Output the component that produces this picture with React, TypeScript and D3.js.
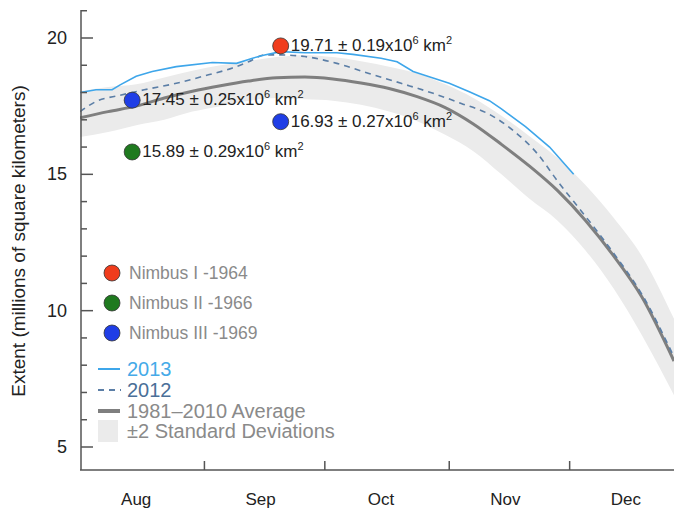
import React from "react";
import * as d3 from "d3";

// dates as "MM-DD" in 2013
const avgDates = ["08-01", "08-08", "08-15", "08-22", "08-29", "09-05", "09-12", "09-19", "09-26", "10-03", "10-10", "10-17", "10-24", "10-31", "11-07", "11-14", "11-21", "11-28", "12-05", "12-12", "12-19", "12-27"];
const avgValues = [17.07, 17.3, 17.5, 17.8, 18.05, 18.25, 18.42, 18.54, 18.57, 18.5, 18.35, 18.15, 17.85, 17.45, 16.85, 16.1, 15.3, 14.4, 13.3, 12.0, 10.5, 8.15];
const sdUpper = [18.05, 18.2, 18.3, 18.55, 18.8, 19.0, 19.15, 19.3, 19.38, 19.3, 19.15, 18.95, 18.7, 18.3, 17.8, 17.15, 16.4, 15.6, 14.6, 13.4, 12.0, 9.7];
const sdLower = [16.37, 16.55, 16.8, 17.0, 17.3, 17.5, 17.7, 17.8, 17.75, 17.7, 17.55, 17.3, 16.95, 16.45, 15.85, 15.0, 14.1, 13.3, 12.2, 10.8, 9.1, 6.9];

const dates2013 = ["08-01", "08-05", "08-09", "08-11", "08-15", "08-19", "08-25", "09-03", "09-09", "09-13", "09-16", "09-20", "09-26", "10-04", "10-08", "10-15", "10-19", "10-23", "10-27", "11-01", "11-06", "11-11", "11-14", "11-20", "11-26", "12-02"];
const values2013 = [18.0, 18.1, 18.1, 18.28, 18.6, 18.77, 18.95, 19.1, 19.07, 19.26, 19.38, 19.5, 19.46, 19.46, 19.4, 19.26, 19.13, 18.77, 18.58, 18.34, 18.03, 17.7, 17.4, 16.75, 16.0, 15.0];

const dates2012 = ["08-01", "08-05", "08-11", "08-17", "08-25", "09-02", "09-08", "09-12", "09-16", "09-20", "09-26", "10-04", "10-12", "10-20", "10-28", "11-04", "11-11", "11-17", "11-23", "11-28", "12-05", "12-12", "12-19", "12-27"];
const values2012 = [17.3, 17.67, 17.9, 18.1, 18.34, 18.65, 18.9, 19.13, 19.38, 19.38, 19.32, 19.07, 18.7, 18.34, 17.97, 17.6, 17.2, 16.6, 15.75, 14.75, 13.45, 12.1, 10.6, 8.3];

const nimbusNames = ["Nimbus I -1964", "Nimbus II -1966", "Nimbus III -1969"];
const nimbusColors = ["#f03c1c", "#1f7a1f", "#1f3ee6"];
const obsDates = ["09-20", "08-14", "08-14", "09-20"];
const obsValues = [19.71, 15.82, 17.72, 16.93];
const obsSat = [0, 1, 2, 2];
const obsLabels = [
  ["19.71 ± 0.19x10", "6", " km", "2"],
  ["15.89 ± 0.29x10", "6", " km", "2"],
  ["17.45 ± 0.25x10", "6", " km", "2"],
  ["16.93 ± 0.27x10", "6", " km", "2"],
];

const months = ["Aug", "Sep", "Oct", "Nov", "Dec"];
const yTicks = [5, 10, 15, 20];

const d = (s: string) => new Date(`2013-${s}T00:00:00`);
const FONT = "'Liberation Sans', Arial, Helvetica, sans-serif";

export default function App() {
  const x = d3.scaleTime().domain([d("08-01"), d("12-27")]).range([80, 674]);
  const y = d3.scaleLinear().domain([5, 20]).range([447, 38]);
  const axisBottom = 470;

  const avg = avgDates.map((s, i) => ({ t: d(s), v: avgValues[i], hi: sdUpper[i], lo: sdLower[i] }));
  const s13 = dates2013.map((s, i) => ({ t: d(s), v: values2013[i] }));
  const s12 = dates2012.map((s, i) => ({ t: d(s), v: values2012[i] }));

  const band = d3.area<any>().x(p => x(p.t)).y0(p => y(p.lo)).y1(p => y(p.hi)).curve(d3.curveMonotoneX);
  const smooth = d3.line<any>().x(p => x(p.t)).y(p => y(p.v)).curve(d3.curveMonotoneX);
  const rough = d3.line<any>().x(p => x(p.t)).y(p => y(p.v));

  const minor = d3.range(5, 22);
  const monthStarts = months.slice(1).map((_, i) => new Date(2013, 8 + i, 1));

  return (
    <svg width={674} height={512} style={{ position: "absolute", left: 0, top: 0, background: "#fff" }} fontFamily={FONT}>
      <defs>
        <clipPath id="plot">
          <rect x={80} y={0} width={594} height={470} />
        </clipPath>
      </defs>
      <g clipPath="url(#plot)">
        <path d={band(avg) || ""} fill="#ebebeb" />
        <path d={smooth(avg) || ""} fill="none" stroke="#7f7f7f" strokeWidth={3} />
        <path d={smooth(s12) || ""} fill="none" stroke="#5b7ea6" strokeWidth={1.6} strokeDasharray="6,5" />
        <path d={rough(s13) || ""} fill="none" stroke="#3ea6ea" strokeWidth={1.6} />
      </g>

      {/* axes */}
      <line x1={81} x2={81} y1={10} y2={axisBottom} stroke="#555" strokeWidth={1.5} />
      <line x1={80} x2={674} y1={axisBottom} y2={axisBottom} stroke="#555" strokeWidth={1.5} />
      {minor.map(v => (
        <line key={v} x1={81} x2={v % 5 === 0 ? 93 : 87} y1={y(v)} y2={y(v)} stroke="#555" strokeWidth={1.5} />
      ))}
      {yTicks.map(v => (
        <text key={v} x={67} y={y(v) + 6} textAnchor="end" fontSize={18} fill="#222">{v}</text>
      ))}
      {monthStarts.map((t, i) => (
        <line key={i} x1={x(t)} x2={x(t)} y1={axisBottom} y2={axisBottom - 9} stroke="#555" strokeWidth={1.5} />
      ))}
      {months.map((m, i) => (
        <text key={m} x={x(new Date(2013, 7 + i, 15))} y={505} textAnchor="middle" fontSize={17} fill="#222">{m}</text>
      ))}
      <text transform="translate(25,241) rotate(-90)" textAnchor="middle" fontSize={19} fill="#222">
        Extent (millions of square kilometers)
      </text>

      {/* observations */}
      {obsDates.map((s, i) => {
        const cx = x(d(s));
        const cy = y(obsValues[i]);
        const [a, b, c, e] = obsLabels[i];
        return (
          <g key={i}>
            <circle cx={cx} cy={cy} r={8} fill={nimbusColors[obsSat[i]]} stroke="#333" strokeWidth={0.8} />
            <text x={cx + 10} y={cy + 5} fontSize={17} fill="#222">
              {a}
              <tspan fontSize={11} dy={-7}>{b}</tspan>
              <tspan dy={7}>{c}</tspan>
              <tspan fontSize={11} dy={-7}>{e}</tspan>
            </text>
          </g>
        );
      })}

      {/* legend */}
      {nimbusNames.map((n, i) => (
        <g key={n}>
          <circle cx={112} cy={273 + i * 30} r={8} fill={nimbusColors[i]} stroke="#333" strokeWidth={0.8} />
          <text x={129} y={279 + i * 30} fontSize={17.5} fill="#8a8a8a">{n}</text>
        </g>
      ))}
      <line x1={98} x2={120} y1={369} y2={369} stroke="#3ea6ea" strokeWidth={2} />
      <text x={127} y={376} fontSize={20} fill="#45aae8">2013</text>
      <line x1={98} x2={121} y1={390} y2={390} stroke="#5b7ea6" strokeWidth={2} strokeDasharray="6,5" />
      <text x={127} y={397} fontSize={20} fill="#4a6f98">2012</text>
      <line x1={98} x2={120} y1={411} y2={411} stroke="#7f7f7f" strokeWidth={4} />
      <text x={127} y={418} fontSize={20} fill="#8a8a8a">1981–2010 Average</text>
      <rect x={98} y={420} width={20} height={22} fill="#ebebeb" />
      <text x={127} y={438} fontSize={20} fill="#8a8a8a">±2 Standard Deviations</text>
    </svg>
  );
}
